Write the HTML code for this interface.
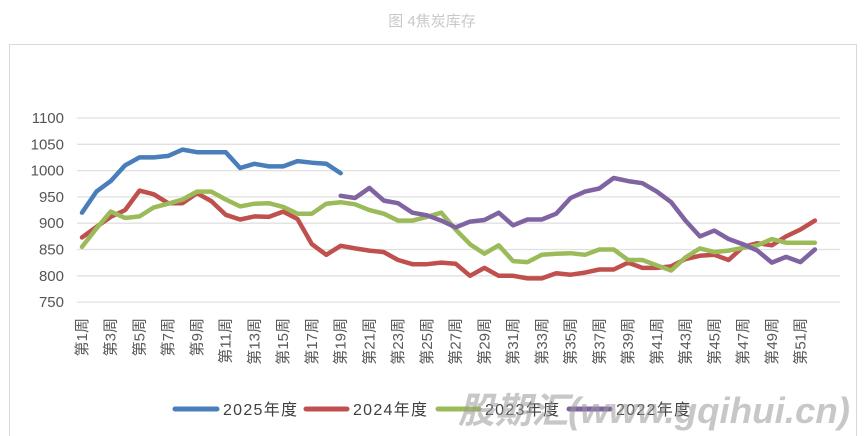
<!DOCTYPE html>
<html><head><meta charset="utf-8"><style>
html,body{margin:0;padding:0;background:#fff;}
svg{display:block;font-family:"Liberation Sans","Noto Sans CJK SC",sans-serif;}
</style></head><body>
<svg width="864" height="436" viewBox="0 0 864 436" xmlns="http://www.w3.org/2000/svg">
<text x="432" y="26" text-anchor="middle" font-size="15" fill="#c8c8c8">图 4焦炭库存</text>
<rect x="9.5" y="44.5" width="847" height="400" fill="none" stroke="#d9d9d9"/>
<g id="grid" stroke="#e0e0e0" stroke-width="1.3"></g>
<g id="ylab" font-size="15" fill="#555" text-anchor="end"></g>
<g id="xlab" font-size="15" fill="#595959"></g>
<g id="series" fill="none" stroke-width="4.5" stroke-linejoin="round" stroke-linecap="round"></g>
<g font-size="16" fill="#404040">
<line x1="175" y1="409" x2="217" y2="409" stroke="#4a7ebb" stroke-width="5" stroke-linecap="round"/>
<text x="223" y="415" textLength="74">2025年度</text>
<line x1="306" y1="409" x2="347" y2="409" stroke="#c0504d" stroke-width="5" stroke-linecap="round"/>
<text x="353" y="415" textLength="74">2024年度</text>
<line x1="438" y1="409" x2="479" y2="409" stroke="#9bbb59" stroke-width="5" stroke-linecap="round"/>
<text x="485" y="415" textLength="74">2023年度</text>
<line x1="569" y1="409" x2="610" y2="409" stroke="#8064a2" stroke-width="5" stroke-linecap="round"/>
<text x="616" y="415" textLength="74">2022年度</text>
</g>
<text x="458" y="423" font-size="36" font-weight="bold" font-style="italic" fill="#999" fill-opacity="0.55" textLength="392" lengthAdjust="spacingAndGlyphs">股期汇(www.gqihui.cn)</text>
</svg>
<script>
var ns="http://www.w3.org/2000/svg";
function Y(v){return 118+(1100-v)*0.526;}
function X(i){return 82+(i-1)*14.37;}
var g=document.getElementById('grid'),yl=document.getElementById('ylab');
for(var v=750;v<=1100;v+=50){var l=document.createElementNS(ns,'line');l.setAttribute('x1',77);l.setAttribute('x2',840);l.setAttribute('y1',Y(v));l.setAttribute('y2',Y(v));g.appendChild(l);
var t=document.createElementNS(ns,'text');t.setAttribute('x',64);t.setAttribute('y',Y(v)+5);t.textContent=v;yl.appendChild(t);}
var xl=document.getElementById('xlab');
for(var i=1;i<=51;i+=2){var t=document.createElementNS(ns,'text');var x=X(i)+5;t.setAttribute('transform','translate('+x+',318) rotate(-90)');t.setAttribute('text-anchor','end');t.textContent='第'+i+'周';xl.appendChild(t);}
var S=[
["#4a7ebb",1,[920,960,980,1010,1025,1025,1028,1040,1035,1035,1035,1005,1013,1008,1008,1018,1015,1013,995]],
["#c0504d",1,[873,893,912,925,962,955,938,938,957,942,916,907,913,912,922,908,860,840,857,852,848,845,830,822,822,825,823,800,815,800,800,795,795,805,802,806,812,812,825,815,815,818,832,838,840,830,855,862,858,875,888,905]],
["#9bbb59",1,[855,890,922,910,913,930,937,945,960,960,945,932,937,938,931,918,918,937,940,936,925,918,905,905,912,920,888,860,842,858,828,826,840,842,843,840,850,850,830,830,820,810,835,852,845,848,853,858,870,863,863,863]],
["#8064a2",19,[952,948,967,943,938,920,915,905,892,903,906,920,896,907,907,918,948,960,966,986,980,976,960,940,905,875,886,870,860,848,825,836,826,850]]];
var sg=document.getElementById('series');
S.forEach(function(s){var p=s[2].map(function(v,k){return X(s[1]+k).toFixed(1)+','+Y(v).toFixed(1);}).join(' ');
var pl=document.createElementNS(ns,'polyline');pl.setAttribute('points',p);pl.setAttribute('stroke',s[0]);sg.appendChild(pl);});
</script>
</body></html>
